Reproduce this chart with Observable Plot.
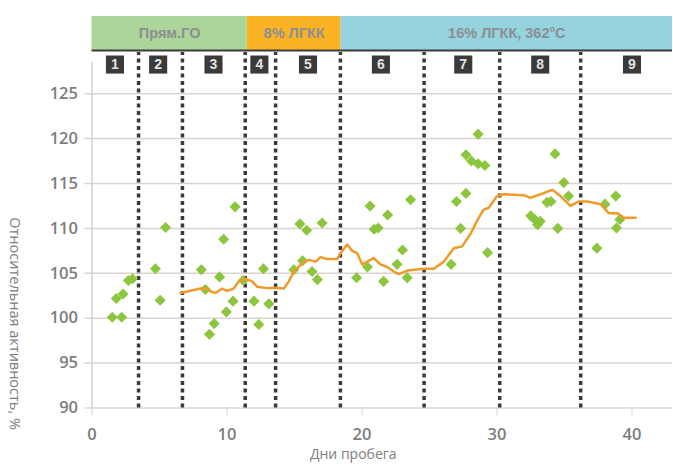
<!DOCTYPE html>
<html><head><meta charset="utf-8">
<script src="https://cdn.jsdelivr.net/npm/d3@7"></script>
<script src="https://cdn.jsdelivr.net/npm/@observablehq/plot@0.6"></script>
<style>body{margin:0;background:#fff;} svg{overflow:visible;}</style>
</head><body><div id="chart"></div>
<script>
// ---- data ----
const phases = ["Прям.ГО", "8% ЛГКК", "16% ЛГКК, 362°C"];
const phaseStart = [0, 11.5, 18.45];
const phaseEnd = [11.5, 18.45, 43];
const phaseColors = ["#acd59a", "#fbb223", "#95d3de"];

const periodLabels = ["1", "2", "3", "4", "5", "6", "7", "8", "9"];
const periodPos = [1.7, 4.9, 9.0, 12.4, 16.0, 21.4, 27.5, 33.2, 40.0];
const boundaries = [3.45, 6.7, 11.35, 13.6, 18.4, 24.6, 30.2, 36.2];

const pointDays = [1.5, 2.2, 1.8, 2.3, 2.7, 3.0,
  4.7, 5.05, 5.45,
  8.1, 8.4, 9.45, 9.75, 10.6, 8.7, 9.05, 9.95, 10.45, 11.2,
  12.0, 12.7, 13.1, 12.35,
  14.95, 15.6, 16.3, 16.7, 15.4, 15.9, 17.05,
  19.6, 20.4, 20.6, 20.9, 21.2, 21.6, 21.9, 22.6, 23.0, 23.35, 23.6,
  26.6, 27.0, 27.3, 27.7, 27.7, 28.1, 28.6, 29.1, 28.6, 29.3,
  32.5, 32.8, 33.2, 33.0, 33.7, 34.0, 34.3, 34.5, 34.95, 35.3,
  37.4, 38.0, 38.8, 38.85, 39.1];
const pointValues = [100.1, 100.1, 102.2, 102.7, 104.2, 104.4,
  105.5, 102.0, 110.1,
  105.4, 103.2, 104.6, 108.8, 112.4, 98.2, 99.4, 100.7, 101.9, 104.2,
  101.9, 105.5, 101.6, 99.3,
  105.4, 106.4, 105.2, 104.3, 110.5, 109.8, 110.6,
  104.5, 105.7, 112.5, 109.9, 110.05, 104.1, 111.5, 106.0, 107.6, 104.5, 113.2,
  106.0, 113.0, 110.0, 113.9, 118.2, 117.5, 117.2, 117.0, 120.5, 107.3,
  111.4, 111.0, 110.8, 110.4, 112.9, 113.0, 118.3, 110.0, 115.1, 113.6,
  107.8, 112.7, 113.6, 110.05, 111.0];

const avgDays = [6.56, 8.28, 8.78, 9.15, 9.64, 10.01, 10.5, 10.87, 11.24, 11.5, 11.87, 12.24,
  12.98, 13.47, 14.21, 14.58, 14.95, 15.57, 16.06, 16.56, 16.93, 17.42, 18.16, 18.41, 18.9,
  19.27, 19.64, 20.01, 20.39, 20.87, 21.37, 21.87, 22.36, 22.73, 23.35, 24.58, 25.32, 26.06,
  26.8, 27.42, 28.04, 28.65, 29.02, 29.39, 30.01, 30.5, 31.99, 32.48, 33.22, 34.09, 34.7,
  35.44, 36.06, 36.68, 37.67, 38.28, 38.9, 39.39, 40.26];
const avgValues = [102.8, 103.4, 103.0, 102.8, 103.3, 103.05, 103.3, 104.1, 104.4, 104.3, 104.1, 103.5,
  103.35, 103.4, 103.3, 104.1, 105.2, 106.1, 106.5, 106.3, 106.8, 106.6, 106.6, 107.25, 108.2,
  107.5, 107.25, 106.0, 106.3, 106.7, 106.0, 105.7, 105.2, 104.9, 105.3, 105.5, 105.5, 106.3,
  107.8, 108.0, 109.4, 111.2, 112.1, 112.3, 113.6, 113.8, 113.7, 113.4, 113.8, 114.3, 113.6,
  112.5, 113.0, 113.0, 112.7, 111.7, 111.7, 111.2, 111.2];

const xTicks = [0, 10, 20, 30, 40];
const yTicks = [90, 95, 100, 105, 110, 115, 120, 125];
const xLabel = "Дни пробега";
const yLabel = "Относительная активность, %";

// ---- layout (in y-scale units above the value range) ----
const Y_TOP = 133.6, BAND_BOTTOM = 129.8, BOX_Y = 128.25, DASH_TOP = 129.6;
const gray = "#7d7d7d";

const plot = Plot.plot({
  width: 673, height: 466,
  marginLeft: 91.5, marginRight: 1, marginTop: 16, marginBottom: 58.5,
  x: {domain: [0, 43]},
  y: {domain: [90, Y_TOP]},
  color: {type: "identity"},
  style: {fontFamily: "Open Sans", background: "white"},
  marks: [
    Plot.ruleY(yTicks, {stroke: "#dcd3cf", strokeWidth: 1.5, insetLeft: -7}),
    Plot.ruleX([0], {y1: 90, y2: BAND_BOTTOM, stroke: "#d8d0cc", strokeWidth: 1.5, insetBottom: -12}),
    Plot.axisX(xTicks, {tickSize: 8, tickPadding: 12, stroke: "#d8d0cc", fill: gray, fontSize: 16.5, fontWeight: 600, label: null}),
    Plot.axisY(yTicks, {tickSize: 0, tickPadding: 14, fill: gray, fontSize: 16.5, fontWeight: 600, label: null}),
    Plot.ruleX(boundaries, {y1: 90, y2: DASH_TOP, stroke: "#3a3a3a", strokeWidth: 3.5, strokeDasharray: "4,3.5"}),
    Plot.rect(phases, {x1: (d, i) => phaseStart[i], x2: (d, i) => phaseEnd[i], y1: BAND_BOTTOM, y2: Y_TOP, fill: (d, i) => phaseColors[i]}),
    Plot.ruleY([BAND_BOTTOM], {stroke: "#3d3d3d", strokeWidth: 2}),
    Plot.text(phases, {x: (d, i) => (phaseStart[i] + phaseEnd[i]) / 2, y: (Y_TOP + BAND_BOTTOM) / 2, fontWeight: "bold", fontSize: 14.5, fill: "#8b8f93", fontFamily: "Liberation Sans"}),
    Plot.dot(periodLabels, {x: (d, i) => periodPos[i], y: BOX_Y, symbol: "square", r: 10.2, fill: "#3a3a3a"}),
    Plot.text(periodLabels, {x: (d, i) => periodPos[i], y: BOX_Y, fill: "#e2e2e2", fontWeight: "bold", fontSize: 14, fontFamily: "Liberation Sans"}),
    Plot.dot(pointDays, {x: d => d, y: (d, i) => pointValues[i], symbol: "diamond2", r: 5, fill: "#8cc63f"}),
    Plot.line(avgDays, {x: d => d, y: (d, i) => avgValues[i], stroke: "#f09a2b", strokeWidth: 2.5}),
    Plot.text([xLabel], {frameAnchor: "bottom", dx: -29, dy: 51, fontSize: 14, fill: gray}),
    Plot.text([yLabel], {frameAnchor: "left", dx: -77.5, dy: 5, rotate: 90, fontSize: 14.5, fill: gray})
  ]
});

// superscript "o" in the temperature label
plot.querySelectorAll("text").forEach(t => {
  if (t.textContent === "16% ЛГКК, 362°C") {
    const ns = "http://www.w3.org/2000/svg";
    t.textContent = "";
    const a = document.createElementNS(ns, "tspan"); a.textContent = "16% ЛГКК, 362";
    const b = document.createElementNS(ns, "tspan"); b.textContent = "o"; b.setAttribute("dy", "-6"); b.setAttribute("font-size", "9");
    const c = document.createElementNS(ns, "tspan"); c.textContent = "C"; c.setAttribute("dy", "6");
    t.append(a, b, c);
  }
});
document.getElementById("chart").append(plot);
</script>
</body></html>
